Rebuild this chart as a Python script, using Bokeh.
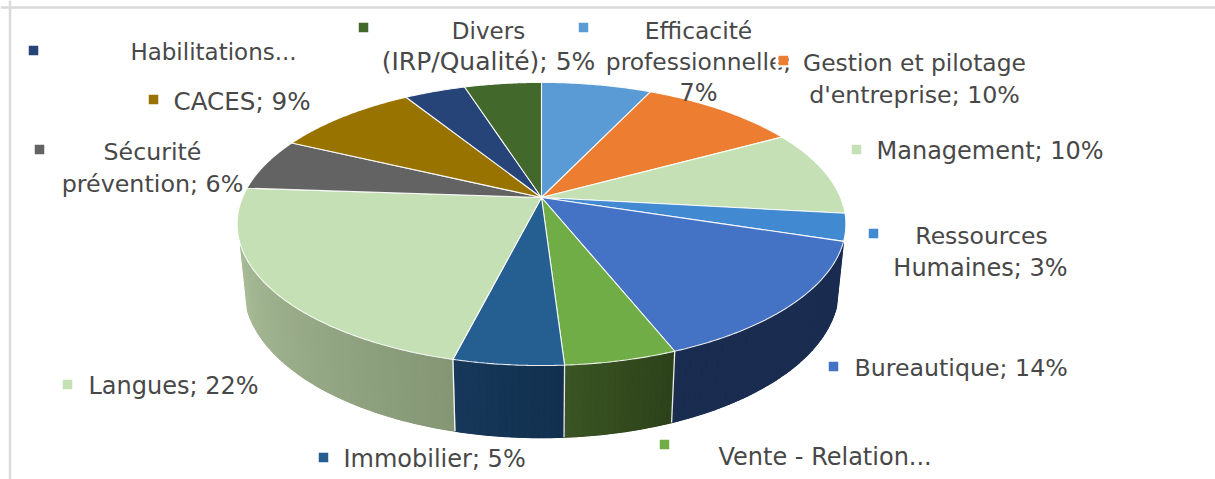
import numpy as np
from bokeh.plotting import figure
from bokeh.models import Span
from bokeh.core.properties import value
from bokeh.embed import file_html
from bokeh.resources import INLINE

# Slices, clockwise from 12 o'clock (percent)
categories = ["Efficacité professionnelle", "Gestion et pilotage d'entreprise", "Management",
              "Ressources Humaines", "Bureautique", "Vente - Relation...", "Immobilier",
              "Langues", "Sécurité prévention", "CACES", "Habilitations...", "Divers (IRP/Qualité)"]
values = [7.0, 10.0, 9.8, 3.1, 14.1, 5.0, 4.9, 22.2, 6.0, 9.1, 3.9, 4.9]
colors = ["#5b9bd5", "#ed7d31", "#c5e0b4", "#4189d0", "#4472c4", "#70ad47",
          "#255e91", "#c5e0b4", "#636363", "#997300", "#264478", "#43682b"]
side_from = {"Bureautique": "#1a2d50", "Vente - Relation...": "#2c411a",
             "Immobilier": "#12304e", "Langues": "#849674"}
side_to = {"Bureautique": "#1a2d50", "Vente - Relation...": "#3b5523",
           "Immobilier": "#17385a", "Langues": "#a8bb97"}

# Legend-in-label texts: marker positions and lines (x, y, text, align, font px)
markers_x = [583, 783, 856, 873, 833, 664, 323, 67, 39, 153, 33, 363]
markers_y = [27, 60, 149, 233, 366, 444, 457, 384, 149, 99, 50, 27]
label_lines = [
    (698, 30, "Efficacité", "center", 23.4), (698, 61, "professionnelle;", "center", 23.4), (698, 92, "7%", "center", 24),
    (914, 62, "Gestion et pilotage", "center", 23.4), (914, 94, "d'entreprise; 10%", "center", 23.7),
    (876, 150, "Management; 10%", "left", 24),
    (981, 235, "Ressources", "center", 23.5), (980, 267, "Humaines; 3%", "center", 24),
    (854, 367, "Bureautique; 14%", "left", 23.7),
    (718, 456, "Vente - Relation...", "left", 24),
    (343, 458, "Immobilier; 5%", "left", 24),
    (88, 385, "Langues; 22%", "left", 24),
    (152, 151, "Sécurité", "center", 23.7), (152, 183, "prévention; 6%", "center", 23.8),
    (173, 101, "CACES; 9%", "left", 24.6),
    (213, 51, "Habilitations...", "center", 23),
    (488, 30, "Divers", "center", 23), (488, 61, "(IRP/Qualité); 5%", "center", 25),
]

# Perspective projection of the disc
CX, CY_TOP, A_TOP, B_TOP = 541.0, 197.0, 136.6, 299.0
CY_BOT, A_BOT, B_BOT = 260.0, 144.0, 292.0
K = 0.187
SIDE_START, SIDE_END = 107.7, 251.0


def project(deg, cy, a, b):
    t = np.radians(deg)
    u, v = np.sin(t), np.cos(t)
    w = 1 + K * v
    return CX + b * u / w, cy - a * v / w


def hex2rgb(h):
    return np.array([int(h[i:i + 2], 16) for i in (1, 3, 5)], dtype=float)


def mix(h1, h2, f):
    c = hex2rgb(h1) * (1 - f) + hex2rgb(h2) * f
    return "#%02x%02x%02x" % tuple(int(round(x)) for x in c)


p = figure(width=1215, height=479, x_range=(0, 1215), y_range=(479, 0),
           output_backend="svg", toolbar_location=None, min_border=0,
           x_axis_type=None, y_axis_type=None, outline_line_color=None)
p.grid.visible = False

p.add_layout(Span(location=7, dimension="width", line_color="#d9d9d9", line_width=2.5))
p.add_layout(Span(location=9.5, dimension="height", line_color="#d9d9d9", line_width=2.5))

total = sum(values)
edges = np.concatenate([[0], np.cumsum(values)]) * 360.0 / total

# side walls: an even base shape per slice, then the gradient strips over it
xs, ys, cs = [], [], []
sep_x, sep_y = [], []
for name, a0, a1 in zip(categories, edges[:-1], edges[1:]):
    lo, hi = max(a0, SIDE_START), min(a1, SIDE_END)
    if hi <= lo or name not in side_from:
        continue
    steps = np.linspace(lo, hi, max(2, int(hi - lo) + 1))
    tx, ty = project(steps, CY_TOP, A_TOP, B_TOP)
    bx, by = project(steps, CY_BOT, A_BOT, B_BOT)
    p.patch(np.concatenate([tx, bx[::-1]]), np.concatenate([ty, by[::-1]]),
            fill_color=mix(side_from[name], side_to[name], 0.5),
            line_color=mix(side_from[name], side_to[name], 0.5), line_width=0.5)
    for i in range(len(steps) - 1):
        xs.append([tx[i], tx[i + 1], bx[i + 1], bx[i]])
        ys.append([ty[i], ty[i + 1], by[i + 1], by[i]])
        cs.append(mix(side_from[name], side_to[name], (i + .5) / (len(steps) - 1)))
    if a1 < SIDE_END:
        x0, y0 = project(a1, CY_TOP, A_TOP, B_TOP)
        x3, y3 = project(a1, CY_BOT, A_BOT, B_BOT)
        sep_x.append([x0, x3])
        sep_y.append([y0, y3])
p.patches(xs, ys, fill_color=cs, line_color=cs, line_width=1.2)
p.multi_line(sep_x, sep_y, line_color="#ffffff", line_width=1.3, line_alpha=0.9)

# top face
for a0, a1, c in zip(edges[:-1], edges[1:], colors):
    ang = np.linspace(a0, a1, max(3, int((a1 - a0) * 2)))
    rx, ry = project(ang, CY_TOP, A_TOP, B_TOP)
    p.patch(np.concatenate([[CX], rx]), np.concatenate([[CY_TOP], ry]),
            fill_color=c, line_color="#ffffff", line_width=1.1, line_alpha=0.9)

# labels
for x, y, t, al, fs in label_lines:
    p.text([x], [y], text=[t], text_align=al, text_baseline="middle",
           text_font=value("DejaVu Sans"), text_font_size=f"{fs}px", text_color="#484848")

# Gestion's marker box hides the end of the neighbouring label
p.quad(left=[775], right=[778], top=[52], bottom=[70], fill_color="#ffffff", line_color=None)
p.scatter(markers_x, markers_y, marker="square", size=9.5, fill_color=colors, line_color=None)

open("out.html", "w").write(file_html(p, INLINE))
